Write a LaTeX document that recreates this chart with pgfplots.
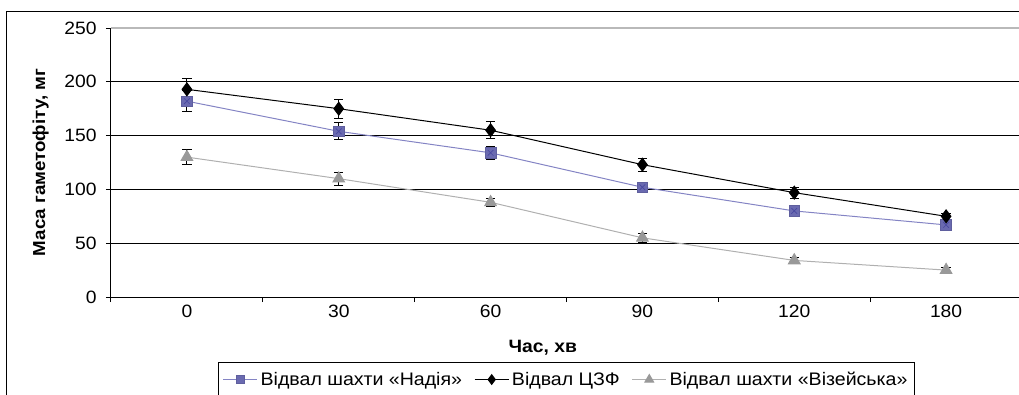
\documentclass[border=0pt]{standalone}
\usepackage{fontspec}
\setmainfont{Liberation Sans}[FakeStretch=1.08]
\usepackage{pgfplots}
\pgfplotsset{compat=1.18}
\usepackage{pgfplotstable}
\definecolor{nadfill}{HTML}{6A6AB0}
\definecolor{nadline}{HTML}{8484C4}
\definecolor{nadx}{HTML}{4848A0}
\definecolor{vizfill}{HTML}{999999}
\definecolor{vizline}{HTML}{B0B0B0}
\pgfplotstableread{
x y e
0 182 10
1 154 8
2 134 6
3 102 4
4 80 3
5 67 3
}\nadiya
\pgfplotstableread{
x y e
0 193 10
1 175 9
2 155 8
3 123 6
4 97 5
5 75 3
}\czf
\pgfplotstableread{
x y e
0 130 7
1 110 6
2 88 4
3 55 4
4 34 3
5 25 2
}\viz
\begin{document}
\begin{tikzpicture}
\begin{axis}[
  name=ax, at={(0pt,0pt)}, anchor=south west,
  scale only axis, width=683.25pt, height=201.75pt,
  xmin=-0.5, xmax=5.5, ymin=0, ymax=250,
  xtick={-0.5,0.5,...,5.5},
  x tick label as interval,
  xticklabels={0,30,60,90,120,180},
  ytick={0,50,...,250},
  ymajorgrids, grid style={black, line width=0.75pt},
  axis x line*=bottom, axis y line*=left,
  axis line style={-, black, line width=0.75pt},
  tick align=outside, major tick length=3.75pt,
  tick style={black, line width=0.75pt},
  /pgf/number format/assume math mode=true,
  ticklabel style={font=\fontsize{13.4}{15}\selectfont},
  xticklabel style={yshift=1.5pt},
  yticklabel style={xshift=-3.5pt},
  xlabel={\bfseries Час, хв},
  xlabel style={font=\fontsize{13.4}{15}\selectfont, at={(axis description cs:0.474,0)}, anchor=north, yshift=-28.5pt},
  ylabel={\bfseries Маса гаметофіту, мг},
  ylabel style={font=\fontsize{13}{15}\selectfont, yshift=5pt},
  legend style={at={(axis description cs:0.5,-0.2416)}, anchor=north, legend columns=3, draw=black, line width=0.75pt, font=\fontsize{13.6}{15}\selectfont, inner ysep=5pt, inner xsep=3pt, /tikz/every even column/.append style={column sep=7pt}},
  legend image code/.code={\draw[mark repeat=2,mark phase=2,#1, every mark/.append style={scale=0.75}] plot coordinates {(0cm,0cm) (0.45cm,0cm) (0.9cm,0cm)};},
  legend cell align=left,
  clip=false,
]
\addplot[nadline, line width=0.75pt, mark=square*, mark size=4pt, mark options={fill=nadfill, draw=nadfill!90!black, line width=0.4pt},
  error bars/.cd, y dir=both, y explicit, error bar style={black, line width=0.75pt}, error mark options={black, rotate=90, mark size=3.5pt, line width=0.75pt}]
  table[x=x, y=y, y error=e] {\nadiya};
\addlegendentry{Відвал шахти «Надія»}
\addplot[forget plot, draw=none, mark=x, mark size=3pt, mark options={nadx, line width=0.5pt}] table[x=x,y=y] {\nadiya};
\addplot[black, line width=0.75pt, mark=diamond*, mark size=4.8pt, mark options={fill=black},
  error bars/.cd, y dir=both, y explicit, error bar style={black, line width=0.75pt}, error mark options={black, rotate=90, mark size=3.5pt, line width=0.75pt}]
  table[x=x, y=y, y error=e] {\czf};
\addlegendentry{Відвал ЦЗФ}
\addplot[vizline, line width=0.75pt, mark=triangle*, mark size=5pt, mark options={fill=vizfill, draw=vizfill},
  error bars/.cd, y dir=both, y explicit, error bar style={black, line width=0.75pt}, error mark options={black, rotate=90, mark size=3.5pt, line width=0.75pt}]
  table[x=x, y=y, y error=e] {\viz};
\addlegendentry{Відвал шахти «Візейська»}
\draw[gray!55, line width=1pt] (axis cs:-0.5,250) -- (axis cs:5.5,250);
\end{axis}
\pgfresetboundingbox
\useasboundingbox (-83.25pt,-72.75pt) rectangle (681pt,222.75pt);
\draw[black, line width=0.75pt] (-78pt,-80pt) -- (-78pt,214.5pt) -- (690pt,214.5pt);
\end{tikzpicture}
\end{document}
